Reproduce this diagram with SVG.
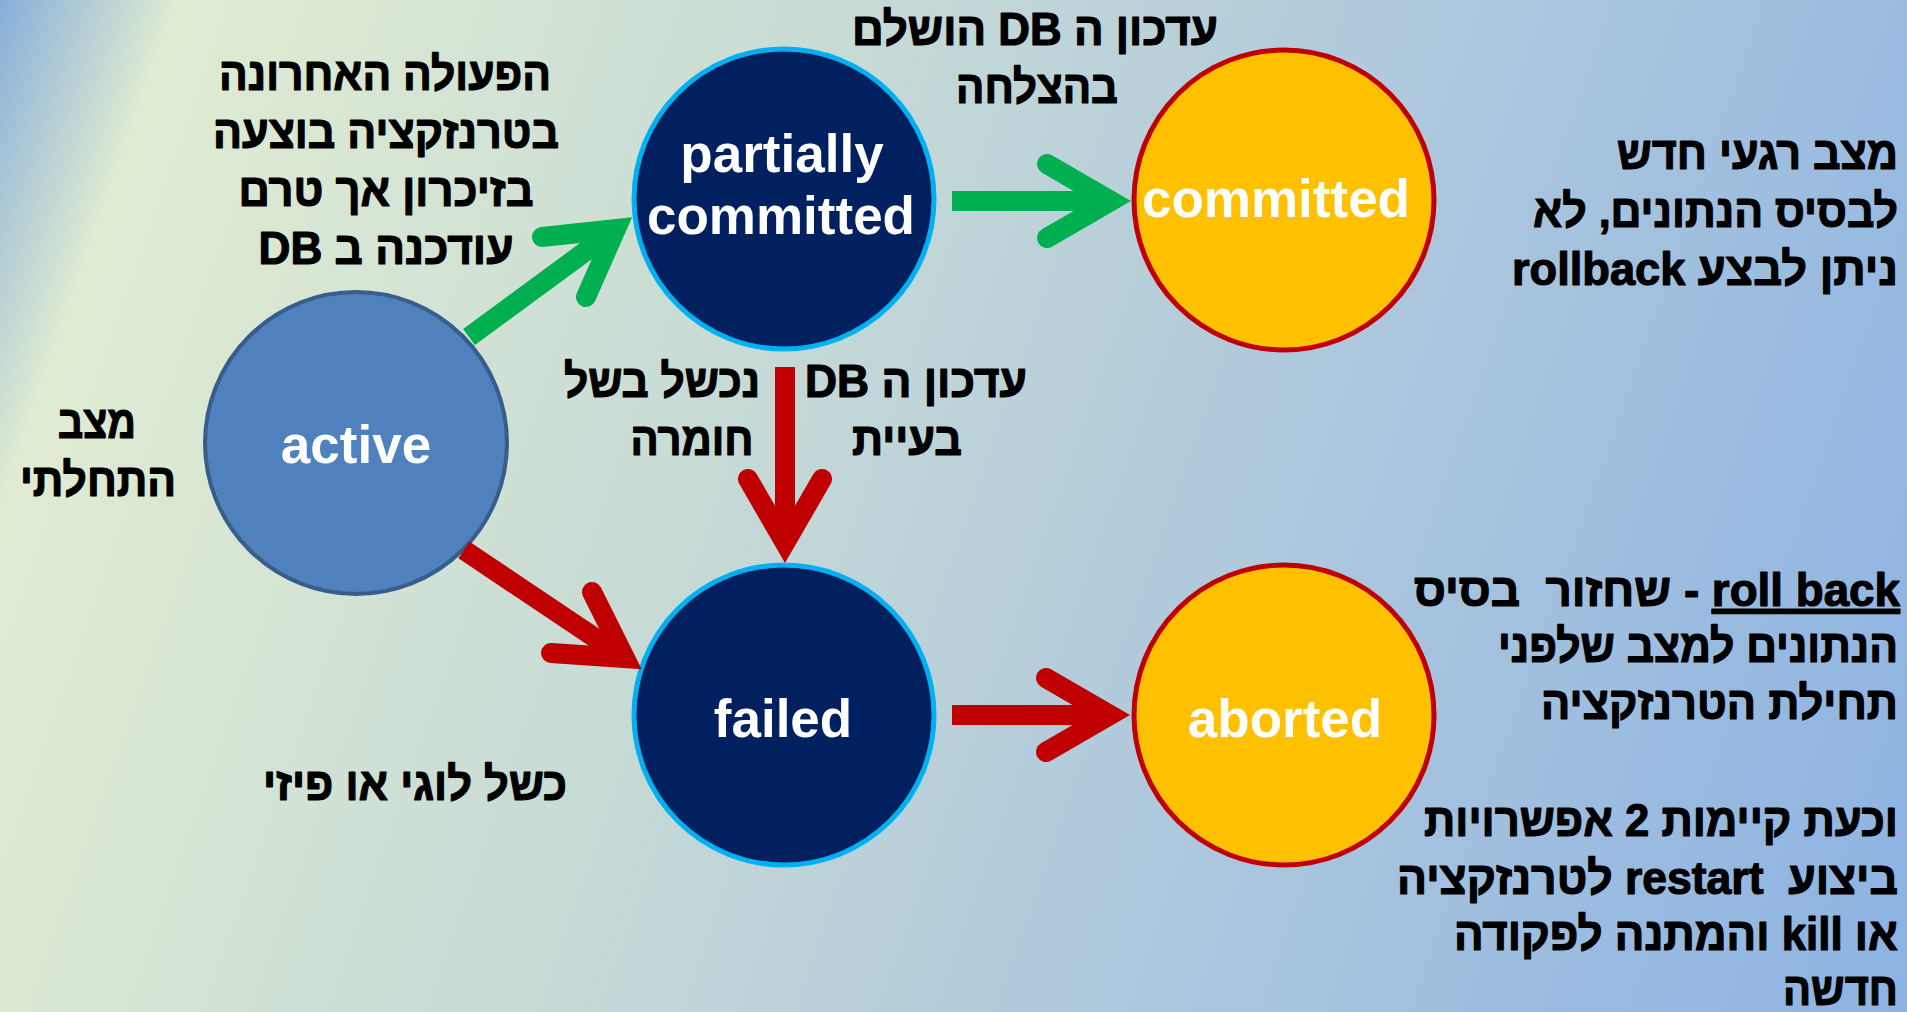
<svg xmlns="http://www.w3.org/2000/svg" width="1907" height="1012" viewBox="0 0 1907 1012">
<defs>
<linearGradient id="bg" gradientUnits="userSpaceOnUse" x1="0" y1="0" x2="2000" y2="700">
<stop offset="0" stop-color="#86AED9"/>
<stop offset="0.08" stop-color="#E0ECD2"/>
<stop offset="0.35" stop-color="#CADDD5"/>
<stop offset="0.65" stop-color="#AEC8DD"/>
<stop offset="1" stop-color="#8DB3E2"/>
</linearGradient>
<style>
.shaft{fill:none;stroke-width:20;stroke-linecap:butt}
.head{fill:none;stroke-width:20;stroke-linecap:round;stroke-linejoin:miter;stroke-miterlimit:6}
.g{stroke:#00B050}
.r{stroke:#C00000}
.nt{font-family:"Liberation Sans",Arial,"DejaVu Sans",sans-serif;font-weight:bold;font-size:53px;fill:#FFFFFF;text-anchor:middle}
.lb{font-family:"Liberation Sans",Arial,"DejaVu Sans",sans-serif;font-weight:bold;font-size:46px;fill:#000000;stroke:#000000;stroke-width:1.2px;stroke-linejoin:round;text-anchor:middle}
.rt{text-anchor:start}
.blue{fill:#4F81BD;stroke:#385D8A;stroke-width:4}
.navy{fill:#002060;stroke:#00B0F0;stroke-width:5}
.gold{fill:#FFC000;stroke:#C00000;stroke-width:5}
</style>
</defs>
<rect x="0" y="0" width="1907" height="1012" fill="url(#bg)"/>

<g id="node-active">
<circle class="blue" cx="356" cy="443" r="151"/>
<text class="nt" x="356" y="463">active</text>
</g>
<g id="node-partially-committed">
<circle class="navy" cx="784" cy="199" r="150"/>
<text class="nt" x="782" y="172">partially</text>
<text class="nt" x="781" y="234">committed</text>
</g>
<g id="node-committed">
<circle class="gold" cx="1284" cy="200" r="150"/>
<text class="nt" x="1276" y="217">committed</text>
</g>
<g id="node-failed">
<circle class="navy" cx="784" cy="715" r="150"/>
<text class="nt" x="783" y="737">failed</text>
</g>
<g id="node-aborted">
<circle class="gold" cx="1284" cy="715" r="150"/>
<text class="nt" x="1285" y="737">aborted</text>
</g>

<g id="connectors">
<path class="shaft g" d="M469,337 L616,229"/>
<path class="head g" d="M542,237 L616,229 L586,297"/>
<path class="shaft g" d="M952,201 L1111,201"/>
<path class="head g" d="M1047,164 L1111,201 L1047,238"/>
<path class="shaft r" d="M785,367 L785,543"/>
<path class="head r" d="M748,479 L785,543 L822,479"/>
<path class="shaft r" d="M464,550 L625,658"/>
<path class="head r" d="M551,653 L625,658 L592,592"/>
<path class="shaft r" d="M952,715 L1110,715"/>
<path class="head r" d="M1046,678 L1110,715 L1046,752"/>
</g>

<g id="labels">
<text class="lb" direction="rtl" x="385" y="90" textLength="332" lengthAdjust="spacingAndGlyphs">הפעולה האחרונה</text>
<text class="lb" direction="rtl" x="386" y="148" textLength="346" lengthAdjust="spacingAndGlyphs">בטרנזקציה בוצעה</text>
<text class="lb" direction="rtl" x="386" y="206" textLength="295" lengthAdjust="spacingAndGlyphs">בזיכרון אך טרם</text>
<text class="lb" direction="rtl" x="386" y="264" textLength="255" lengthAdjust="spacingAndGlyphs">עודכנה ב DB</text>

<text class="lb" direction="rtl" x="97" y="438" textLength="78" lengthAdjust="spacingAndGlyphs">מצב</text>
<text class="lb" direction="rtl" x="98" y="496" textLength="156" lengthAdjust="spacingAndGlyphs">התחלתי</text>

<text class="lb" direction="rtl" x="1035" y="45" textLength="366" lengthAdjust="spacingAndGlyphs">עדכון ה DB הושלם</text>
<text class="lb" direction="rtl" x="1037" y="103" textLength="162" lengthAdjust="spacingAndGlyphs">בהצלחה</text>

<text class="lb" direction="rtl" x="916" y="397" textLength="222" lengthAdjust="spacingAndGlyphs">עדכון ה DB</text>
<text class="lb" direction="rtl" x="662" y="397" textLength="196" lengthAdjust="spacingAndGlyphs">נכשל בשל</text>
<text class="lb" direction="rtl" x="907" y="455" textLength="110" lengthAdjust="spacingAndGlyphs">בעיית</text>
<text class="lb" direction="rtl" x="692" y="455" textLength="123" lengthAdjust="spacingAndGlyphs">חומרה</text>

<text class="lb" direction="rtl" x="415" y="800" textLength="304" lengthAdjust="spacingAndGlyphs">כשל לוגי או פיזי</text>

<text class="lb rt" direction="rtl" x="1898" y="169" textLength="281" lengthAdjust="spacingAndGlyphs">מצב רגעי חדש</text>
<text class="lb rt" direction="rtl" x="1898" y="227" textLength="365" lengthAdjust="spacingAndGlyphs">לבסיס הנתונים, לא</text>
<text class="lb rt" direction="rtl" x="1898" y="285" textLength="386" lengthAdjust="spacingAndGlyphs">ניתן לבצע rollback</text>

<text class="lb rt" direction="rtl" xml:space="preserve" x="1900" y="606" textLength="486" lengthAdjust="spacingAndGlyphs"><tspan text-decoration="underline">roll back</tspan> - שחזור  בסיס</text>
<text class="lb rt" direction="rtl" x="1898" y="662" textLength="400" lengthAdjust="spacingAndGlyphs">הנתונים למצב שלפני</text>
<text class="lb rt" direction="rtl" x="1898" y="719" textLength="357" lengthAdjust="spacingAndGlyphs">תחילת הטרנזקציה</text>

<text class="lb rt" direction="rtl" x="1898" y="836" textLength="474" lengthAdjust="spacingAndGlyphs">וכעת קיימות 2 אפשרויות</text>
<text class="lb rt" direction="rtl" xml:space="preserve" x="1898" y="894" textLength="501" lengthAdjust="spacingAndGlyphs">ביצוע  restart לטרנזקציה</text>
<text class="lb rt" direction="rtl" x="1898" y="950" textLength="444" lengthAdjust="spacingAndGlyphs">או kill והמתנה לפקודה</text>
<text class="lb rt" direction="rtl" x="1898" y="1005" textLength="115" lengthAdjust="spacingAndGlyphs">חדשה</text>
</g>
</svg>
